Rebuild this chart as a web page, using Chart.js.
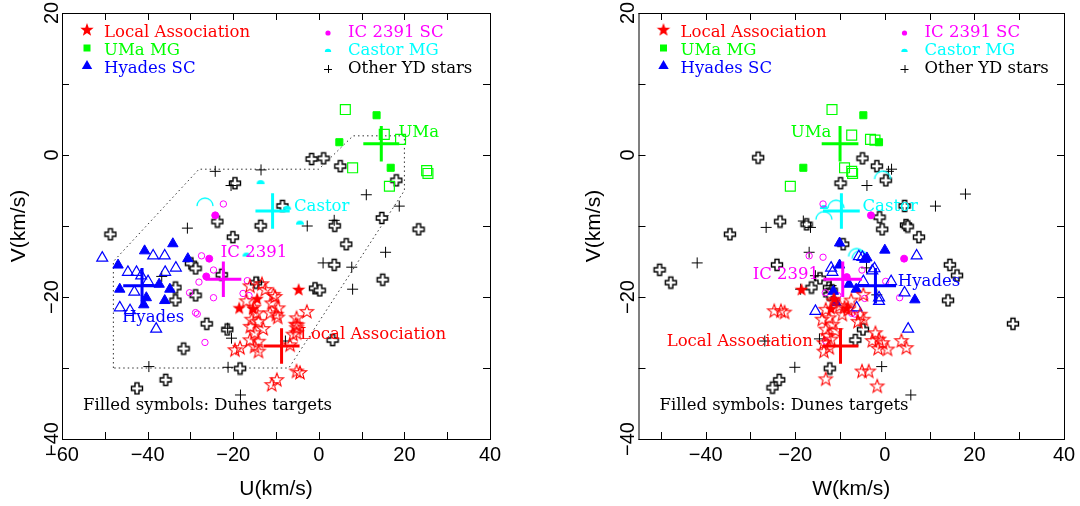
<!DOCTYPE html>
<html>
<head>
<meta charset="utf-8">
<script src="https://cdn.jsdelivr.net/npm/chart.js@4.4.1/dist/chart.umd.min.js"></script>
<style>
html, body { margin: 0; padding: 0; background: #fff; }
#wrap { position: relative; width: 1080px; height: 506px; }
canvas { position: absolute; top: 0; }
#left { left: 0; }
#right { left: 540px; }
</style>
</head>
<body>
<div id="wrap">
<canvas id="left" width="540" height="506"></canvas>
<canvas id="right" width="540" height="506"></canvas>
</div>
<script>
// ---- data, left panel (U, V) ----
const laFillUV = [[-4.7,-19.0],[-18.6,-21.6],[-14.4,-20.3],[-15.4,-21.7]];
const laOpenUV = [[-13.3,-18.2],[-16.1,-18.5],[-10.6,-19.7],[-11.0,-20.9],[-9.5,-21.6],[-9.9,-22.5],[-11.4,-22.3],[-14.5,-22.3],[-15.7,-23.2],[-14.1,-23.5],[-2.8,-22.1],[-5.2,-23.0],[-5.4,-23.9],[-5.2,-24.4],[-5.2,-25.1],[-6.0,-25.3],[-15.0,-25.1],[-16.1,-26.1],[-14.1,-26.3],[-15.0,-27.0],[-18.4,-27.2],[-19.6,-27.5],[-14.1,-27.7],[-6.7,-26.8],[-5.2,-30.5],[-4.4,-30.7],[-9.8,-31.7],[-11.0,-32.4],[-16.9,-20.6],[-12.5,-19.0],[-10.2,-20.0],[-15.2,-21.5],[-13.0,-24.5],[-16.0,-24.2],[-5.0,-24.0],[-9.6,-22.9]];
const umaFillUV = [[13.5,5.6],[4.8,1.8],[16.8,-1.8]];
const umaOpenUV = [[6.2,6.4],[15.3,2.9],[19.1,2.2],[7.9,-1.8],[16.5,-4.4],[25.2,-2.2],[25.5,-2.6]];
const hyaFillUV = [[-34.1,-12.5],[-40.7,-13.5],[-46.9,-15.5],[-30.6,-14.6],[-37.3,-18.2],[-46.5,-18.9],[-40.3,-20.1],[-40.9,-21.1],[-36.0,-20.5],[-34.8,-18.9]];
const hyaOpenUV = [[-50.6,-14.5],[-38.7,-14.2],[-36.0,-14.2],[-44.6,-16.5],[-42.6,-16.5],[-35.9,-16.5],[-33.4,-15.9],[-39.9,-17.8],[-43.1,-19.3],[-46.5,-21.5],[-44.1,-21.9],[-38.0,-24.5],[-41.5,-17.0]];
const icFillUV = [[-24.2,-8.5],[-25.6,-14.6],[-26.3,-17.1]];
const icOpenUV = [[-22.3,-6.9],[-27.4,-14.2],[-24.6,-16.2],[-28.0,-17.9],[-30.2,-19.4],[-24.6,-20.1],[-16.7,-17.7],[-17.7,-19.5],[-16.3,-19.8],[-28.8,-22.2],[-28.4,-22.4],[-26.6,-26.4]];
const casFillUV = [[-13.6,-4.1],[-7.4,-7.7],[-4.4,-9.8],[-16.9,-14.3]];
const casOpenUV = [[-26.6,-7.2]];
const ydPlusUV = [[-24.2,-2.3],[-13.5,-2.1],[-20.5,-4.3],[-30.7,-10.3],[11.1,-5.6],[18.8,-7.2],[-2.7,-10.0],[3.6,-9.2],[15.6,-13.7],[1.0,-15.2],[7.7,-15.8],[7.9,-18.9],[-36.7,-17.1],[-21.3,-24.4],[-20.4,-25.8],[-7.8,-26.2],[-39.7,-29.8],[-21.2,-29.9],[-18.3,-33.8],[-14.0,-17.9]];
const ydOpenUV = [[-48.8,-11.1],[-19.7,-3.9],[-23.8,-9.3],[-13.7,-9.9],[-20.2,-11.5],[-8.6,-7.1],[-1.8,-0.5],[1.0,-0.4],[4.9,-1.5],[18.0,-3.5],[14.6,-8.8],[23.2,-10.4],[3.6,-9.9],[6.3,-12.5],[3.5,-15.4],[14.8,-17.5],[-1.0,-18.7],[0.1,-19.0],[-30.0,-15.2],[-28.9,-15.9],[-33.6,-18.6],[-33.6,-20.4],[-28.9,-19.7],[-26.3,-23.7],[-21.5,-24.5],[-14.8,-17.9],[-31.7,-27.2],[-18.5,-30.0],[3.1,-26.0],[-35.9,-31.6],[-42.6,-32.8],[-22.8,-16.8]];

// ---- data, right panel (W, V) ----
const laFillWV = [[-18.6,-19.0],[-11.3,-20.3],[-8.5,-21.6],[-12.0,-21.7]];
const laOpenWV = [[-24.7,-22.0],[-23.2,-22.0],[-22.4,-22.2],[-13.2,-21.8],[-14.0,-23.2],[-12.4,-23.0],[-11.7,-23.9],[-13.2,-24.6],[-12.8,-25.5],[-13.6,-26.5],[-12.4,-27.2],[-13.6,-27.7],[-10.1,-21.3],[-9.0,-21.5],[-8.2,-21.8],[-4.8,-19.7],[-4.8,-23.2],[-5.5,-22.5],[-2.1,-25.1],[-1.3,-26.0],[-2.8,-26.2],[-0.5,-26.5],[0.6,-27.4],[3.7,-26.2],[4.8,-27.2],[-5.1,-30.5],[-3.6,-30.5],[-13.2,-31.6],[-1.7,-32.6],[-11.5,-20.6],[-9.5,-22.5],[-7.5,-20.5],[-12.0,-26.0],[-6.0,-23.5],[-11.0,-24.8],[-1.5,-27.3]];
const umaFillWV = [[-4.8,5.6],[-1.3,1.8],[-18.2,-1.8]];
const umaOpenWV = [[-11.8,6.4],[-7.4,2.8],[-3.2,2.2],[-2.2,2.1],[-9.0,-1.8],[-7.4,-2.3],[-7.2,-2.6],[-21.1,-4.4]];
const hyaFillWV = [[-10.1,-12.4],[0.0,-13.4],[-4.5,-14.7],[-10.1,-15.5],[-8.0,-18.2],[-6.4,-18.9],[-10.9,-20.8],[6.7,-20.4],[-11.5,-19.2],[-4.0,-14.5]];
const hyaOpenWV = [[7.1,-14.2],[-5.8,-14.3],[-5.0,-14.4],[-2.8,-16.3],[-12.0,-15.9],[-11.7,-16.5],[-4.8,-17.8],[1.4,-17.8],[-1.3,-20.1],[-1.3,-20.6],[4.4,-19.4],[-15.5,-22.0],[-6.3,-21.5],[5.2,-24.5],[-2.3,-16.0]];
const icFillWV = [[-3.1,-8.5],[4.3,-14.6],[-8.5,-17.2]];
const icOpenWV = [[-13.8,-6.9],[-16.9,-14.2],[-13.8,-14.4],[-5.1,-16.2],[0.2,-17.8],[3.3,-20.1],[-13.3,-19.4],[-7.4,-22.3],[-6.7,-22.4],[-13.2,-26.2],[-10.5,-19.8],[-4.5,-20.2]];
const casFillWV = [[-13.6,-7.6]];
const casOpenWV = [[-10.9,-7.5],[-13.6,-9.1],[-0.5,-3.4],[-6.3,-14.3],[-5.5,-14.6]];
const ydPlusWV = [[1.5,-2.0],[0.8,-2.3],[-4.0,-4.3],[18.0,-5.5],[11.3,-7.2],[-26.5,-10.2],[-18.2,-9.3],[-16.6,-10.2],[-16.9,-13.7],[-41.9,-15.2],[-4.1,-15.9],[-15.5,-17.0],[-18.8,-18.9],[-1.8,-19.7],[-26.8,-26.2],[-14.6,-25.9],[-20.1,-29.9],[-0.7,-29.8],[5.8,-33.8],[-12.0,-18.4]];
const ydOpenWV = [[-28.4,-0.3],[-5.1,-0.4],[-1.9,-1.5],[0.1,-3.5],[-10.0,-3.9],[4.3,-7.1],[-1.3,-8.7],[-0.7,-10.4],[4.6,-9.8],[5.0,-10.0],[7.5,-11.5],[-23.5,-9.3],[-17.6,-9.7],[-34.7,-11.1],[-9.4,-12.5],[-24.2,-15.4],[-50.4,-16.1],[-47.9,-17.9],[14.4,-15.4],[16.0,-16.9],[14.0,-20.4],[28.5,-23.7],[-16.5,-18.6],[-14.6,-17.3],[-12.6,-18.6],[-12.0,-19.0],[-5.0,-24.5],[-6.7,-26.0],[-12.4,-30.0],[-23.7,-31.6],[-25.2,-32.7],[-12.5,-19.6]];

// ---- group means and dispersions (big crosses) ----
const groupNames = ['Local Association', 'UMa', 'Hyades', 'IC 2391', 'Castor'];
const meanU = [-8.7, 14.6, -41.3, -22.3, -10.8];
const meanW = [-9.9, -10.0, -2.1, -9.4, -9.7];
const meanV = [-26.9, 1.6, -18.4, -17.5, -7.9];
const sigU = [4.2, 4.2, 4.4, 4.2, 4.0];
const sigW = [4.0, 4.1, 4.6, 4.3, 4.1];
const sigV = [2.5, 2.5, 2.5, 2.5, 2.5];

// young disk boundary (U-V plane)
const boundU = [-48, -48, -28, 0, 8, 20, 20, -7, -48];
const boundV = [-30, -15, -2, -2, 2.7, 2.7, -5, -30, -30];

const xTicksLeft = [-60, -40, -20, 0, 20, 40];
const xTicksRight = [-40, -20, 0, 20, 40];
const yTicks = [-40, -20, 0, 20];

const RED = '#ff0000', GREEN = '#00ff00', BLUE = '#0000ff', MAGENTA = '#ff00ff', CYAN = '#00ffff', BLACK = '#000000';
const groupColors = [RED, GREEN, BLUE, MAGENTA, CYAN];
const SERIF = '"DejaVu Serif", serif';
const SANS = '"Liberation Sans", Arial, sans-serif';

// ---- marker shapes ----
function starPath(g, x, y, R, r) {
    g.beginPath();
    for (let i = 0; i < 10; i++) {
        const a = -Math.PI / 2 + i * Math.PI / 5;
        const rr = i % 2 ? r : R;
        g.lineTo(x + rr * Math.cos(a), y + rr * Math.sin(a));
    }
    g.closePath();
}
function crossPath(g, x, y, a, b) {
    const p = [[-b,-a],[b,-a],[b,-b],[a,-b],[a,b],[b,b],[b,a],[-b,a],[-b,b],[-a,b],[-a,-b],[-b,-b]];
    g.beginPath();
    p.forEach(([dx, dy]) => g.lineTo(x + dx, y + dy));
    g.closePath();
}
function marker(size, draw) {
    const c = document.createElement('canvas');
    c.width = size;
    c.height = size;
    draw(c.getContext('2d'), size / 2, size / 2);
    return c;
}
const starOpen = marker(18, (g, x, y) => { starPath(g, x, y, 7, 2.9); g.strokeStyle = RED; g.lineWidth = 1.1; g.stroke(); });
const starFill = marker(18, (g, x, y) => { starPath(g, x, y, 7, 2.9); g.fillStyle = RED; g.fill(); });
const crossOpen = marker(15, (g, x, y) => { crossPath(g, x + 0.5, y + 0.5, 5.5, 2); g.fillStyle = '#fff'; g.fill(); g.strokeStyle = BLACK; g.lineWidth = 1.4; g.stroke(); });
const arcOpen = marker(22, (g, x, y) => { g.beginPath(); g.arc(x, y, 8, Math.PI, 2 * Math.PI); g.strokeStyle = CYAN; g.lineWidth = 1.3; g.stroke(); });
const halfFill = marker(12, (g, x, y) => { g.beginPath(); g.arc(x, y, 4, Math.PI, 2 * Math.PI); g.closePath(); g.fillStyle = CYAN; g.fill(); });

const pts = arr => arr.map(([x, y]) => ({ x, y }));

function scatter(arr, style, extra) {
    return Object.assign({
        data: pts(arr),
        showLine: false,
        pointStyle: style,
        pointRadius: 5,
        pointHoverRadius: 5,
        borderWidth: 1,
        borderColor: BLACK,
        backgroundColor: 'rgba(0,0,0,0)'
    }, extra || {});
}

function crossData(cx, cy, sx, sy) {
    return [
        { x: cx - sx, y: cy }, { x: cx + sx, y: cy },
        { x: NaN, y: NaN },
        { x: cx, y: cy - sy }, { x: cx, y: cy + sy }
    ];
}

// frame, inner ticks, legend and text labels
const decorPlugin = {
    id: 'decor',
    afterDraw(chart, args, opts) {
        const { ctx, chartArea: a } = chart;
        const xs = chart.scales.x, ys = chart.scales.y;
        ctx.save();
        ctx.strokeStyle = BLACK;
        ctx.lineWidth = 1;
        ctx.strokeRect(a.left + 0.5, a.top + 0.5, a.right - a.left, a.bottom - a.top);
        ctx.beginPath();
        for (let v = Math.ceil(xs.min / 10) * 10; v <= xs.max; v += 10) {
            const px = Math.round(xs.getPixelForValue(v)) + 0.5;
            ctx.moveTo(px, a.bottom); ctx.lineTo(px, a.bottom - 7);
            ctx.moveTo(px, a.top); ctx.lineTo(px, a.top + 7);
        }
        for (let v = Math.ceil(ys.min / 10) * 10; v <= ys.max; v += 10) {
            const py = Math.round(ys.getPixelForValue(v)) + 0.5;
            ctx.moveTo(a.left, py); ctx.lineTo(a.left + 7, py);
            ctx.moveTo(a.right, py); ctx.lineTo(a.right - 7, py);
        }
        ctx.stroke();

        ctx.font = '16.5px ' + SERIF;
        ctx.textBaseline = 'middle';
        ctx.textAlign = 'left';
        // group labels next to the big crosses
        opts.labels.forEach((lab, i) => {
            ctx.fillStyle = groupColors[i];
            ctx.fillText(groupNames[i], xs.getPixelForValue(lab[0]), ys.getPixelForValue(lab[1]));
        });

        // legend
        const L = a.left, T = a.top;
        const rows = [20, 38, 56];
        const c1 = L + 25, t1 = L + 42, c2 = L + 266, t2 = L + 286;
        ctx.drawImage(starFill, c1 - 9, T + rows[0] - 3 - 9);
        ctx.fillStyle = GREEN;
        ctx.fillRect(c1 - 3.5, T + rows[1] - 3 - 3.5, 7, 7);
        ctx.fillStyle = BLUE;
        ctx.beginPath();
        ctx.moveTo(c1, T + rows[2] - 3 - 6);
        ctx.lineTo(c1 + 5.2, T + rows[2] - 3 + 3);
        ctx.lineTo(c1 - 5.2, T + rows[2] - 3 + 3);
        ctx.closePath();
        ctx.fill();
        ctx.fillStyle = MAGENTA;
        ctx.beginPath();
        ctx.arc(c2, T + rows[0], 2.6, 0, 2 * Math.PI);
        ctx.fill();
        ctx.fillStyle = CYAN;
        ctx.beginPath();
        ctx.arc(c2, T + rows[1] + 1, 3.2, Math.PI, 2 * Math.PI);
        ctx.closePath();
        ctx.fill();
        ctx.strokeStyle = BLACK;
        ctx.beginPath();
        ctx.moveTo(c2 - 4, T + rows[2] + 0.5); ctx.lineTo(c2 + 4, T + rows[2] + 0.5);
        ctx.moveTo(c2 + 0.5, T + rows[2] - 4); ctx.lineTo(c2 + 0.5, T + rows[2] + 4);
        ctx.stroke();

        const legendText = [['Local Association', RED, t1, 0], ['UMa MG', GREEN, t1, 1], ['Hyades SC', BLUE, t1, 2],
            ['IC 2391 SC', MAGENTA, t2, 0], ['Castor MG', CYAN, t2, 1], ['Other YD stars', BLACK, t2, 2]];
        legendText.forEach(([txt, col, x, r]) => {
            ctx.fillStyle = col;
            ctx.fillText(txt, x, T + rows[r]);
        });
        ctx.fillStyle = BLACK;
        ctx.fillText('Filled symbols: Dunes targets', L + 21, 406);
        ctx.restore();
    }
};

function minusFmt(v) {
    return String(v).replace('-', '\u2212');
}

function makePanel(canvasId, p) {
    const datasets = [];
    // mean crosses on top
    p.meanX.forEach((mx, i) => {
        datasets.push({
            data: crossData(mx, meanV[i], p.sigX[i], sigV[i]),
            showLine: true, spanGaps: false, pointRadius: 0, pointHoverRadius: 0,
            borderColor: groupColors[i], borderWidth: 3, fill: false
        });
    });
    datasets.push(scatter(p.laFill, starFill));
    datasets.push(scatter(p.laOpen, starOpen));
    datasets.push(scatter(p.hyaFill, 'triangle', { pointRadius: 6, backgroundColor: BLUE, borderColor: BLUE }));
    datasets.push(scatter(p.hyaOpen, 'triangle', { pointRadius: 6.3, borderColor: BLUE, borderWidth: 1.2 }));
    datasets.push(scatter(p.umaFill, 'rect', { pointRadius: 5, backgroundColor: GREEN, borderColor: GREEN }));
    datasets.push(scatter(p.umaOpen, 'rect', { pointRadius: 7, borderColor: GREEN, borderWidth: 1.2 }));
    datasets.push(scatter(p.icFill, 'circle', { pointRadius: 3.5, backgroundColor: MAGENTA, borderColor: MAGENTA }));
    datasets.push(scatter(p.icOpen, 'circle', { pointRadius: 3.2, borderColor: MAGENTA }));
    datasets.push(scatter(p.casFill, halfFill));
    datasets.push(scatter(p.casOpen, arcOpen));
    datasets.push(scatter(p.ydPlus, 'cross', { pointRadius: 5.5, borderColor: BLACK }));
    datasets.push(scatter(p.ydOpen, crossOpen));
    if (p.bound) {
        datasets.push({
            data: p.bound, showLine: true, pointRadius: 0, pointHoverRadius: 0,
            borderColor: '#333', borderWidth: 1, borderDash: [1.5, 3], fill: false
        });
    }

    return new Chart(document.getElementById(canvasId), {
        type: 'scatter',
        data: { datasets },
        plugins: [decorPlugin],
        options: {
            responsive: false,
            animation: false,
            devicePixelRatio: 1,
            events: [],
            layout: { padding: { left: 0, right: p.padRight, top: 13, bottom: 0 } },
            plugins: {
                legend: { display: false },
                tooltip: { enabled: false },
                decor: { labels: p.labels }
            },
            scales: {
                x: {
                    type: 'linear', min: p.xMin, max: p.xMax,
                    grid: { display: false }, border: { display: false },
                    ticks: {
                        stepSize: 10, autoSkip: false, maxRotation: 0, padding: -4, color: BLACK,
                        font: { family: SANS, size: 20 },
                        callback: v => (p.xTicks.includes(v) ? minusFmt(v) : '')
                    },
                    title: { display: true, text: p.xTitle, color: BLACK, font: { family: SANS, size: 21 }, padding: { top: 0, bottom: 4 } },
                    afterFit(s) { s.height = 67; s.paddingLeft = 0; s.paddingRight = 0; }
                },
                y: {
                    type: 'linear', min: -40, max: 20,
                    grid: { display: false }, border: { display: false },
                    ticks: {
                        stepSize: 10, autoSkip: false, minRotation: 90, maxRotation: 90, crossAlign: 'center',
                        padding: -15, color: BLACK, font: { family: SANS, size: 20 },
                        callback: v => (yTicks.includes(v) ? minusFmt(v) : '')
                    },
                    title: { display: true, text: 'V(km/s)', color: BLACK, font: { family: SANS, size: 21 }, padding: { top: p.yTitlePad, bottom: 0 } },
                    afterFit(s) { s.width = p.yWidth; s.paddingTop = 0; s.paddingBottom = 0; }
                }
            }
        }
    });
}

makePanel('left', {
    xMin: -60, xMax: 40, xTicks: xTicksLeft, xTitle: 'U(km/s)',
    yWidth: 62, padRight: 50, yTitlePad: 7,
    meanX: meanU, sigX: sigU,
    laFill: laFillUV, laOpen: laOpenUV, umaFill: umaFillUV, umaOpen: umaOpenUV,
    hyaFill: hyaFillUV, hyaOpen: hyaOpenUV, icFill: icFillUV, icOpen: icOpenUV,
    casFill: casFillUV, casOpen: casOpenUV, ydPlus: ydPlusUV, ydOpen: ydOpenUV,
    bound: boundU.map((u, i) => ({ x: u, y: boundV[i] })),
    labels: [[-4.4, -25.3], [18.6, 3.1], [-46.0, -22.9], [-22.9, -13.8], [-5.8, -7.3]]
});

makePanel('right', {
    xMin: -55, xMax: 40, xTicks: xTicksRight, xTitle: 'W(km/s)',
    yWidth: 98.5, padRight: 16, yTitlePad: 42,
    meanX: meanW, sigX: sigW,
    laFill: laFillWV, laOpen: laOpenWV, umaFill: umaFillWV, umaOpen: umaOpenWV,
    hyaFill: hyaFillWV, hyaOpen: hyaOpenWV, icFill: icFillWV, icOpen: icOpenWV,
    casFill: casFillWV, casOpen: casOpenWV, ydPlus: ydPlusWV, ydOpen: ydOpenWV,
    bound: null,
    labels: [[-48.7, -26.3], [-21.0, 3.1], [2.9, -17.8], [-29.5, -16.9], [-5.0, -7.3]]
});
</script>
</body>
</html>
